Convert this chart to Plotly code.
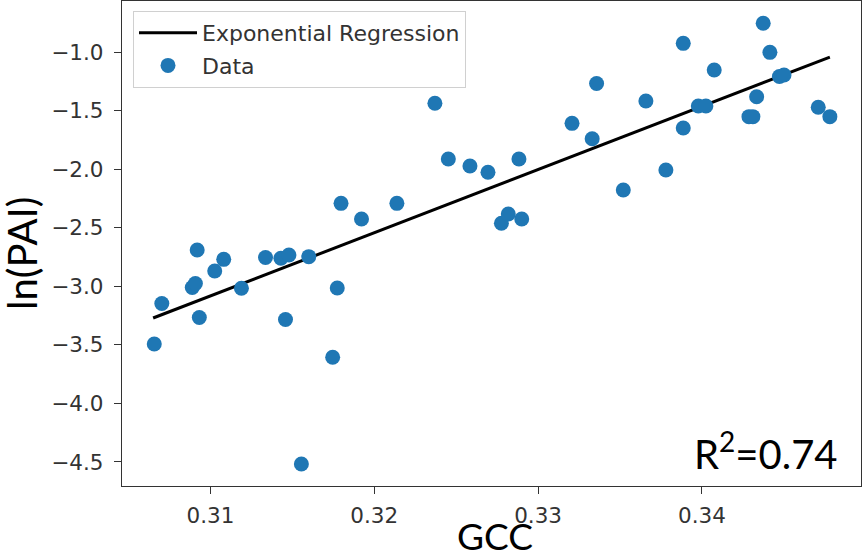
import plotly.graph_objects as go

# Data points (GCC, ln(PAI))
gcc = [0.30657, 0.30703, 0.30889, 0.30908, 0.30919, 0.30932, 0.31026, 0.31081,
       0.31189, 0.31336, 0.31430, 0.31479, 0.31458, 0.31555, 0.31600, 0.31746,
       0.31774, 0.31797, 0.31922, 0.32138, 0.32370, 0.32452, 0.32584, 0.32694,
       0.32776, 0.32818, 0.32883, 0.32900, 0.33207, 0.33330, 0.33357, 0.33520,
       0.33658, 0.33780, 0.33886, 0.33886, 0.33978, 0.34024, 0.34075, 0.34287,
       0.34311, 0.34334, 0.34374, 0.34415, 0.34473, 0.34501, 0.34710, 0.34781]
ln_pai = [-3.493, -3.147, -3.010, -2.976, -2.690, -3.267, -2.870, -2.770,
          -3.017, -2.754, -2.761, -2.733, -3.284, -4.517, -2.747, -3.606,
          -3.015, -2.292, -2.426, -2.292, -1.438, -1.913, -1.973, -2.027,
          -2.462, -2.383, -1.913, -2.426, -1.609, -1.740, -1.269, -2.178,
          -1.418, -2.007, -0.926, -1.649, -1.461, -1.461, -1.154, -1.552,
          -1.552, -1.382, -0.755, -1.003, -1.209, -1.196, -1.472, -1.552]

# Regression line end points
fit_x = [0.30650, 0.34781]
fit_y = [-3.271, -1.043]

x_ticks = [0.31, 0.32, 0.33, 0.34]
y_ticks = [-1.0, -1.5, -2.0, -2.5, -3.0, -3.5, -4.0, -4.5]

W, H = 864, 553
L, R, T, B = 122, 3, 1, 67
PW, PH = W - L - R, H - T - B

fig = go.Figure()
fig.add_trace(go.Scatter(
    x=fit_x, y=fit_y, mode="lines", name="Exponential Regression",
    line=dict(color="black", width=3), legendgroup="a"))
fig.add_trace(go.Scatter(
    x=gcc, y=ln_pai, mode="markers", name="Data",
    marker=dict(color="#1f77b4", size=15, line=dict(width=0)), legendgroup="b"))

tickfont = dict(family="DejaVu Sans", size=21.5, color="#333333")
axis_common = dict(
    showline=True, linecolor="#333333", linewidth=1.3, mirror=True,
    showgrid=False, zeroline=False, ticks="outside", ticklen=7,
    tickcolor="#333333", tickwidth=1.3, tickfont=tickfont, automargin=False)

fig.update_xaxes(
    range=[0.30460, 0.34971], tickvals=x_ticks,
    ticktext=[f"{v:.2f}" for v in x_ticks], ticklabelstandoff=3,
    **axis_common)
fig.update_yaxes(
    range=[-4.705, -0.5646], tickvals=y_ticks,
    ticktext=[f"\u2212{abs(v):.1f}" for v in y_ticks], ticklabelstandoff=6,
    **axis_common)

# x-axis title
fig.add_annotation(
    text="GCC", xref="paper", yref="paper",
    x=(495 - L) / PW, y=(486 - 511) / PH,
    xanchor="center", yanchor="top", showarrow=False,
    font=dict(family="Lato", size=37, color="black"))

# y-axis title
fig.add_annotation(
    text="ln(PAI)", xref="paper", yref="paper",
    x=(22 - L) / PW, y=(486 - 254) / PH, textangle=-90,
    xanchor="center", yanchor="middle", showarrow=False,
    font=dict(family="Lato", size=40, color="black"))

fig.add_annotation(
    text="R<sup>2</sup>=0.74", xref="paper", yref="paper",
    x=(840 - L) / PW, y=(486 - 451) / PH,
    xanchor="right", yanchor="middle", showarrow=False,
    font=dict(family="Lato", size=40, color="black"))

fig.update_layout(
    width=W, height=H, margin=dict(l=L, r=R, t=T, b=B, autoexpand=False),
    paper_bgcolor="white", plot_bgcolor="white",
    showlegend=True,
    legend=dict(
        x=(133 - L) / PW, y=(486 - 11) / PH,
        xanchor="left", yanchor="top",
        bgcolor="white", bordercolor="#d0d0d0", borderwidth=1,
        font=dict(family="DejaVu Sans", size=22, color="#333333"),
        itemwidth=58, tracegroupgap=1),
)

fig.write_html("out.html")
